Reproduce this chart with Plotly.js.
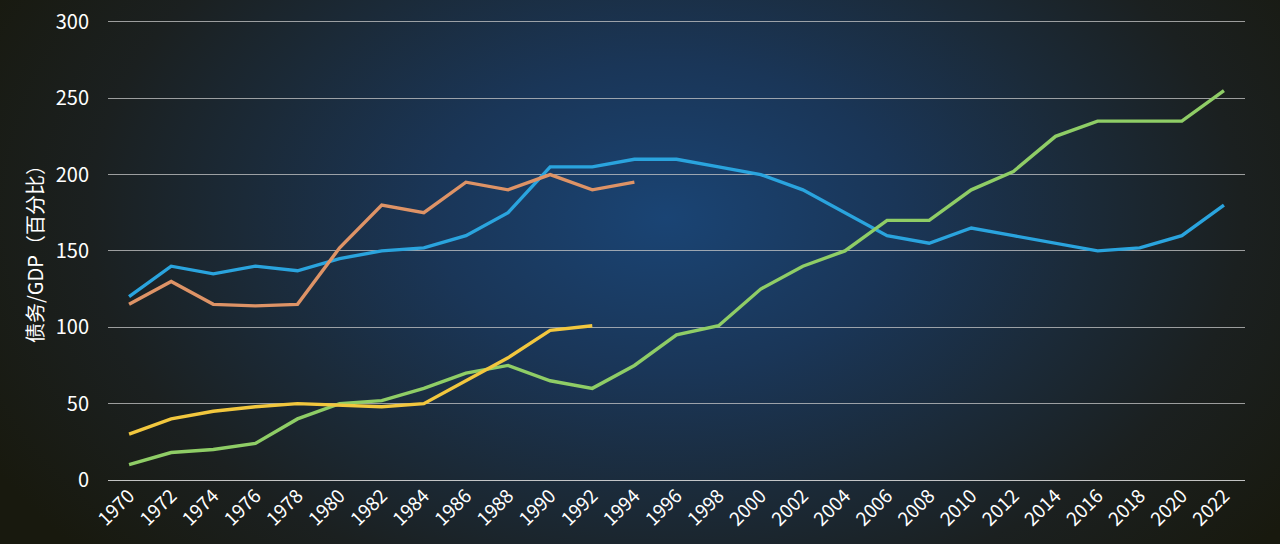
<!DOCTYPE html>
<html>
<head>
<meta charset="utf-8">
<script src="https://cdn.plot.ly/plotly-3.0.1.min.js"></script>
<style>
  html, body { margin:0; padding:0; background:#19190f; }
  #chart {
    width:1280px; height:544px;
    background: radial-gradient(ellipse 60% 95% at 52% 40%, #1a4474 0%, #1a3658 30%, #1b2a38 55%, #1b2020 75%, #18190e 100%);
  }
</style>
</head>
<body>
<div id="chart"></div>
<script>
const years = [1970,1972,1974,1976,1978,1980,1982,1984,1986,1988,1990,1992,1994,1996,
  1998,2000,2002,2004,2006,2008,2010,2012,2014,2016,2018,2020,2022];

const blue   = [120,140,135,140,137,145,150,152,160,175,205,205,210,210,
  205,200,190,175,160,155,165,160,155,150,152,160,180];
const orange = [115,130,115,114,115,152,180,175,195,190,200,190,195];
const yellow = [30,40,45,48,50,49,48,50,65,80,98,101];
const green  = [10,18,20,24,40,50,52,60,70,75,65,60,75,95,
  101,125,140,150,170,170,190,202,225,235,235,235,255];

const line = (y, color) => ({
  type:'scatter', mode:'lines',
  x: years.slice(0, y.length), y: y,
  line:{color:color, width:3.4},
  hoverinfo:'x+y'
});

const traces = [
  line(blue, '#2aa4de'),
  line(orange, '#de9366'),
  line(green, '#8fcd66'),
  line(yellow, '#f2c73e'),
];

const layout = {
  width:1280, height:544,
  margin:{l:108, r:35, t:18, b:64},
  paper_bgcolor:'rgba(0,0,0,0)',
  plot_bgcolor:'rgba(0,0,0,0)',
  showlegend:false,
  font:{family:'"Noto Sans CJK SC", "Open Sans", sans-serif', color:'#ffffff', size:20},
  xaxis:{
    range:[1969, 2023],
    tickvals: years,
    ticktext: years.map(String),
    tickangle:-45,
    showgrid:false, zeroline:false, showline:false,
    ticks:'', tickfont:{size:19, color:'#ffffff'}
  },
  yaxis:{
    range:[0, 302.5],
    tickvals:[0,50,100,150,200,250,300],
    showgrid:true, gridcolor:'rgba(200,200,200,0.75)', gridwidth:1,
    zeroline:true, zerolinecolor:'rgba(225,225,225,0.85)', zerolinewidth:1,
    showline:false, ticks:'',
    ticklabelstandoff:18,
    tickfont:{size:20, color:'#ffffff'},
    title:{text:'债务/GDP（百分比）', font:{size:20, color:'#ffffff'}, standoff:6}
  }
};

Plotly.newPlot('chart', traces, layout, {displayModeBar:false, staticPlot:true});
</script>
</body>
</html>
